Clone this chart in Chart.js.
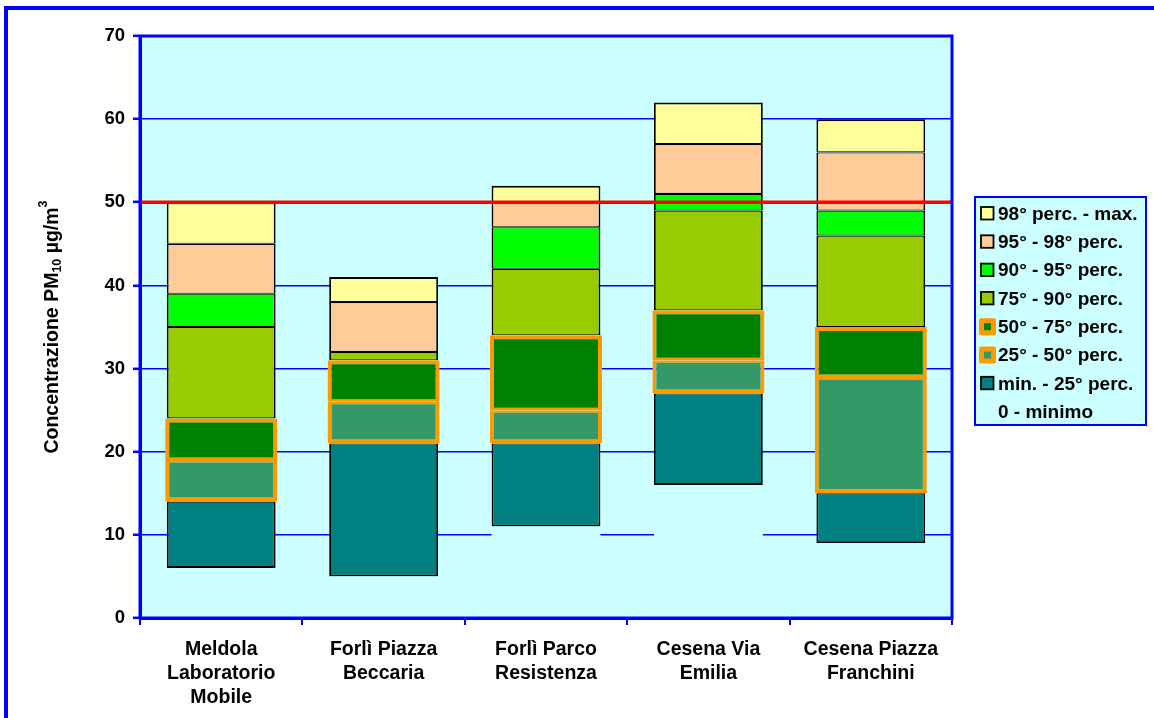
<!DOCTYPE html>
<html>
<head>
<meta charset="utf-8">
<script src="https://cdn.jsdelivr.net/npm/chart.js@4"></script>
<style>
    html, body { margin: 0; padding: 0; background: #fff; overflow: hidden; }
    #frame {
        position: absolute; left: 4px; top: 6px;
        width: 1200px; height: 760px;
        border: 4px solid #0000ff;
    }
    #wrap { position: absolute; left: 0; top: 0; width: 1154px; height: 718px; }
</style>
</head>
<body>
<div id="frame"></div>
<div id="wrap"><canvas id="pmChart" width="1154" height="718"></canvas></div>
<script>
// --- Data ---
const categories = [
    ['Meldola', 'Laboratorio', 'Mobile'],
    ['Forlì Piazza', 'Beccaria'],
    ['Forlì Parco', 'Resistenza'],
    ['Cesena Via', 'Emilia'],
    ['Cesena Piazza', 'Franchini']
];
const minimo   = [6, 5, 11, 16, 9];
const minTo25  = [8, 16, 10, 11, 6];
const p25to50  = [5, 5, 4, 4, 14];
const p50to75  = [5, 5, 9, 6, 6];
const p75to90  = [11, 1, 8, 12, 11];
const p90to95  = [4, 0, 5, 2, 3];
const p95to98  = [6, 6, 3, 6, 7];
const p98toMax = [5, 3, 2, 5, 4];
const limitValue = 50;
const yMin = 0, yMax = 70, yStep = 10;

const FONT = "'Liberation Sans', Arial, sans-serif";
const PLOT_BG = '#ccffff';
const BLUE = '#0000ff';
const ORANGE = '#ff9900';

function seg(label, data, color, top, bottom) {
    return {
        label: label,
        data: data,
        backgroundColor: color,
        borderColor: '#000000',
        borderWidth: { top: top || 1.1, bottom: bottom || 1.1, left: 1.8, right: 1.8 },
        borderSkipped: false,
        barPercentage: 0.67,
        categoryPercentage: 1
    };
}

function orangeSeg(label, data, color, border) {
    return {
        label: label,
        data: data,
        backgroundColor: color,
        borderColor: ORANGE,
        borderWidth: border,
        borderSkipped: false,
        barPercentage: 0.69,
        categoryPercentage: 1,
        orangeSwatch: true
    };
}

const datasets = [
    { label: '0 - minimo', data: minimo, backgroundColor: PLOT_BG, borderWidth: 0,
      inflateAmount: 0, barPercentage: 0.67, categoryPercentage: 1, noSwatch: true },
    seg('min. - 25° perc.', minTo25, '#008080', 1.1, 2),
    orangeSeg('25° - 50° perc.', p25to50, '#339966', { top: 2.5, bottom: 4, left: 4, right: 4 }),
    orangeSeg('50° - 75° perc.', p50to75, '#008000', { top: 4, bottom: 2.5, left: 4, right: 4 }),
    seg('75° - 90° perc.', p75to90, '#99cc00'),
    seg('90° - 95° perc.', p90to95, '#00ff00'),
    seg('95° - 98° perc.', p95to98, '#ffcc99'),
    seg('98° perc. - max.', p98toMax, '#ffff99', 2, 1.1)
];

// --- Plugins ---
const plotDecor = {
    id: 'plotDecor',
    beforeDraw(chart) {
        const { ctx, chartArea: a } = chart;
        ctx.save();
        ctx.fillStyle = PLOT_BG;
        ctx.fillRect(a.left, a.top, a.right - a.left, a.bottom - a.top);
        ctx.restore();
    },
    afterDatasetsDraw(chart) {
        const { ctx, chartArea: a, scales } = chart;
        // limit line
        const y = scales.y.getPixelForValue(limitValue);
        ctx.save();
        ctx.strokeStyle = '#ff0000';
        ctx.lineWidth = 3.5;
        ctx.beginPath();
        ctx.moveTo(a.left, y);
        ctx.lineTo(a.right + 1, y);
        ctx.stroke();
        // plot frame
        ctx.strokeStyle = BLUE;
        ctx.lineWidth = 3;
        ctx.strokeRect(a.left, a.top, a.right - a.left, a.bottom - a.top);
        ctx.restore();
    },
    afterDraw(chart) {
        const { ctx, chartArea: a } = chart;
        ctx.save();

        // y axis title with sub/superscript
        const big = 'bold 19.5px ' + FONT, small = 'bold 12.5px ' + FONT;
        const parts = [
            { t: 'Concentrazione PM', f: big, dy: 0 },
            { t: '10', f: small, dy: 5 },
            { t: ' µg/m', f: big, dy: 0 },
            { t: '3', f: small, dy: -9 }
        ];
        let total = 0;
        parts.forEach(p => { ctx.font = p.f; p.w = ctx.measureText(p.t).width; total += p.w; });
        ctx.translate(53, (a.top + a.bottom) / 2);
        ctx.rotate(-Math.PI / 2);
        ctx.fillStyle = '#000';
        ctx.textBaseline = 'middle';
        let x = -total / 2;
        parts.forEach(p => { ctx.font = p.f; ctx.fillText(p.t, x, p.dy); x += p.w; });
        ctx.setTransform(1, 0, 0, 1, 0, 0);

        // legend
        const lx = 975, ly = 197, lw = 171, lh = 228;
        ctx.fillStyle = PLOT_BG;
        ctx.fillRect(lx, ly, lw, lh);
        ctx.strokeStyle = BLUE;
        ctx.lineWidth = 2;
        ctx.strokeRect(lx, ly, lw, lh);
        ctx.font = 'bold 19px ' + FONT;
        ctx.textBaseline = 'middle';
        const items = chart.data.datasets.slice().reverse();
        items.forEach((ds, i) => {
            const cy = 213.5 + i * 28.3;
            if (ds.orangeSwatch) {
                ctx.fillStyle = ORANGE;
                ctx.beginPath();
                ctx.roundRect(979, cy - 8.5, 17, 17, 2);
                ctx.fill();
                ctx.fillStyle = ds.backgroundColor;
                ctx.fillRect(984, cy - 3.5, 7, 7);
            } else if (!ds.noSwatch) {
                ctx.fillStyle = ds.backgroundColor;
                ctx.fillRect(981, cy - 6.5, 12.5, 12.5);
                ctx.strokeStyle = '#000';
                ctx.lineWidth = 1.8;
                ctx.strokeRect(981, cy - 6.5, 12.5, 12.5);
            }
            ctx.fillStyle = '#000';
            ctx.fillText(ds.label, 998, cy + 1);
        });
        ctx.restore();
    }
};

new Chart(document.getElementById('pmChart'), {
    type: 'bar',
    data: { labels: categories, datasets: datasets },
    options: {
        responsive: false,
        animation: false,
        events: [],
        layout: { padding: { top: 36, right: 202, left: 0, bottom: 0 } },
        plugins: { legend: { display: false }, tooltip: { enabled: false } },
        scales: {
            x: {
                stacked: true,
                afterFit(scale) { scale.height = 100; },
                grid: { drawOnChartArea: false, color: BLUE, lineWidth: 2, tickLength: 7, offset: true },
                border: { color: BLUE, width: 3 },
                ticks: {
                    color: '#000', padding: 13, maxRotation: 0, autoSkip: false,
                    font: { family: FONT, size: 19.5, weight: 'bold', lineHeight: 1.23 }
                }
            },
            y: {
                stacked: true,
                min: yMin, max: yMax,
                afterFit(scale) { scale.width = 140; },
                grid: { color: BLUE, lineWidth: 1.6, tickLength: 7, tickColor: BLUE, tickWidth: 2.5 },
                border: { color: BLUE, width: 3 },
                ticks: {
                    stepSize: yStep, color: '#000', padding: 8,
                    font: { family: FONT, size: 18.5, weight: 'bold' }
                }
            }
        }
    },
    plugins: [plotDecor]
});
</script>
</body>
</html>
